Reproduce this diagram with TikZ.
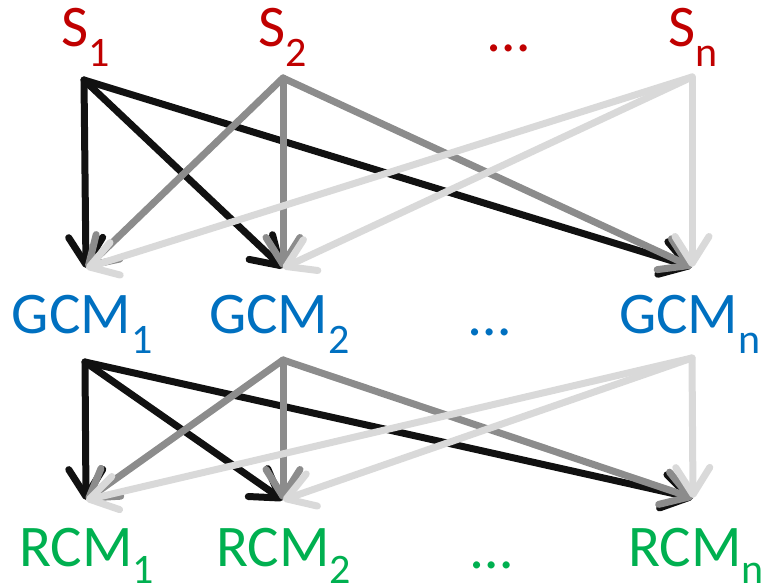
\documentclass[tikz,border=0pt]{standalone}
\usepackage{fontspec}
\setmainfont{Carlito}
\usetikzlibrary{arrows.meta}
\definecolor{sred}{HTML}{C00000}
\definecolor{gblue}{HTML}{0070C0}
\definecolor{rgreen}{HTML}{00B050}
\definecolor{cblack}{HTML}{111111}
\definecolor{cgray}{HTML}{8C8C8C}
\definecolor{clight}{HTML}{D9D9D9}
\newcommand{\subs}[1]{\raisebox{-20pt}{\fontsize{42}{42}\selectfont #1}}
\newcommand{\subsb}[1]{\raisebox{-17pt}{\fontsize{42}{42}\selectfont #1}}
\begin{document}
\begin{tikzpicture}[x=1pt,y=-1pt,
  conn/.style={line width=7pt, line cap=round, line join=round,
    -{Straight Barb[length=27pt,width=34pt,line cap=round,line join=round]}},
  cb/.style={conn, draw=cblack},
  cg/.style={conn, draw=cgray},
  cl/.style={conn, draw=clight},
  lab/.style={anchor=base west, inner sep=0pt, outer sep=0pt, font=\fontsize{59}{59}\selectfont}]
\useasboundingbox (0,0) rectangle (765,585);
% labels
\node[lab, text=sred] (S1) at (61,47) {S\subs{1}};
\node[lab, text=sred] (S2) at (258,47) {S\subs{2}};
\node[lab, text=sred] (Sd) at (488,52) {…};
\node[lab, text=sred] (Sn) at (668,47) {S\subs{n}};
\node[lab, text=gblue] (G1) at (12,333) {GCM\subs{1}};
\node[lab, text=gblue] (G2) at (209,333) {GCM\subs{2}};
\node[lab, text=gblue] (Gd) at (469,335) {…};
\node[lab, text=gblue] (Gn) at (619,333) {GCM\subs{n}};
\node[lab, text=rgreen] (R1) at (19,566) {RCM\subsb{1}};
\node[lab, text=rgreen] (R2) at (216,566) {RCM\subsb{2}};
\node[lab, text=rgreen] (Rd) at (471,568) {…};
\node[lab, text=rgreen] (Rn) at (628,566) {RCM\subsb{n}};
% connector end points
\coordinate (s1o) at (84,80);
\coordinate (s2o) at (283,78);
\coordinate (sno) at (692,77);
\coordinate (g1i) at (86,268);
\coordinate (g2i) at (283,268);
\coordinate (gni) at (692,267);
\coordinate (g1o) at (85,362);
\coordinate (g2o) at (283,360);
\coordinate (gno) at (692,358);
\coordinate (r1i) at (86,500);
\coordinate (r2i) at (283,500);
\coordinate (rni) at (693,498);
% S -> GCM
\draw[cb] (s1o) -- (g1i);
\draw[cb] (s1o) -- (g2i);
\draw[cb] (s1o) -- (gni);
\draw[cg] (s2o) -- (g1i);
\draw[cg] (s2o) -- (g2i);
\draw[cg] (s2o) -- (gni);
\draw[cl] (sno) -- (g1i);
\draw[cl] (sno) -- (g2i);
\draw[cl] (sno) -- (gni);
% GCM -> RCM
\draw[cb] (g1o) -- (r1i);
\draw[cb] (g1o) -- (r2i);
\draw[cb] (g1o) -- (rni);
\draw[cg] (g2o) -- (r1i);
\draw[cg] (g2o) -- (r2i);
\draw[cg] (g2o) -- (rni);
\draw[cl] (gno) -- (r1i);
\draw[cl] (gno) -- (r2i);
\draw[cl] (gno) -- (rni);
\end{tikzpicture}
\end{document}
